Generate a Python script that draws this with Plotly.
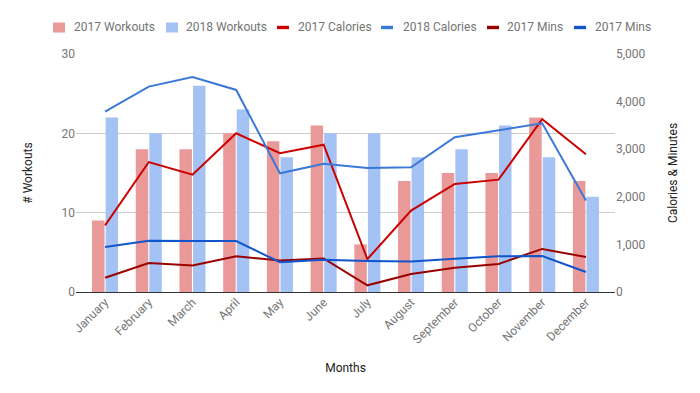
import plotly.graph_objects as go

months = ["January", "February", "March", "April", "May", "June", "July",
          "August", "September", "October", "November", "December"]
workouts_2017 = [9, 18, 18, 20, 19, 21, 6, 14, 15, 15, 22, 14]
workouts_2018 = [22, 20, 26, 23, 17, 20, 20, 17, 18, 21, 17, 12]
calories_2017 = [1400, 2730, 2465, 3335, 2915, 3095, 690, 1710, 2270, 2360, 3630, 2895]
calories_2018 = [3790, 4315, 4515, 4245, 2495, 2695, 2605, 2620, 3250, 3405, 3545, 1920]
mins_2017 = [300, 610, 555, 750, 660, 705, 140, 380, 510, 590, 905, 735]
mins_2018 = [945, 1075, 1070, 1070, 625, 680, 650, 640, 700, 750, 755, 420]

series_names = ["2017 Workouts", "2018 Workouts", "2017 Calories",
                "2018 Calories", "2017 Mins", "2017 Mins"]
series_colors = ["#ea9999", "#a4c2f4", "#cc0000", "#3c78d8", "#990000", "#1155cc"]

FONT = "Roboto, Arial, sans-serif"
GRAY = "#757575"

fig = go.Figure()
fig.add_trace(go.Bar(x=months, y=workouts_2017, name=series_names[0],
                     marker=dict(color=series_colors[0], line=dict(width=0))))
fig.add_trace(go.Bar(x=months, y=workouts_2018, name=series_names[1],
                     marker=dict(color=series_colors[1], line=dict(width=0))))
for vals, i in ((calories_2017, 2), (calories_2018, 3), (mins_2017, 4), (mins_2018, 5)):
    fig.add_trace(go.Scatter(x=months, y=vals, name=series_names[i], yaxis="y2",
                             mode="lines", line=dict(color=series_colors[i], width=2)))

# Manual legend (pixel positions converted to paper coordinates)
PL, PR, PT, PB = 76, 615, 54, 292
def px_x(p):
    return (p - PL) / (PR - PL)
def px_y(p):
    return (PB - p) / (PB - PT)

swatch_x = [53, 166, 277, 381, 487, 574]
text_x = [72, 184, 296, 401, 505, 593]
ly = 27.5
shapes = []
annotations = []
for i, name in enumerate(series_names):
    if i < 2:
        y0, y1 = ly - 5, ly + 5
    else:
        y0, y1 = ly - 1.7, ly + 1.7
    shapes.append(dict(type="rect", xref="paper", yref="paper",
                       x0=px_x(swatch_x[i]), x1=px_x(swatch_x[i] + 12),
                       y0=px_y(y1), y1=px_y(y0),
                       fillcolor=series_colors[i], line=dict(width=0), layer="above"))
    annotations.append(dict(text=name, xref="paper", yref="paper",
                            x=px_x(text_x[i]), y=px_y(ly), xanchor="left", yanchor="middle",
                            showarrow=False, font=dict(family=FONT, size=12, color=GRAY)))

fig.update_layout(
    width=700, height=393,
    margin=dict(l=76, r=85, t=54, b=101, autoexpand=False),
    paper_bgcolor="white", plot_bgcolor="white",
    font=dict(family=FONT, size=12, color=GRAY),
    barmode="group", bargap=0.38, bargroupgap=0.08,
    showlegend=False,
    shapes=shapes, annotations=annotations,
    xaxis=dict(range=[-0.665, 11.665], tickangle=-45, showgrid=False, zeroline=False,
               showline=False, ticks="", tickfont=dict(size=12, color=GRAY), automargin=False,
               title=dict(text="Months", font=dict(size=12, color="#222222"), standoff=18)),
    yaxis=dict(range=[0, 30], tickvals=[0, 10, 20, 30], showgrid=True, gridcolor="#cccccc",
               zeroline=True, zerolinecolor="#333333", zerolinewidth=1, showline=False,
               tickfont=dict(size=12, color=GRAY), ticks="", ticklen=0, automargin=False,
               title=dict(text="# Workouts", font=dict(size=12, color="#222222"), standoff=26)),
    yaxis2=dict(range=[0, 5000], tickvals=[0, 1000, 2000, 3000, 4000, 5000], tickformat=",",
                overlaying="y", side="right", showgrid=False, zeroline=False, showline=False,
                tickfont=dict(size=12, color=GRAY), automargin=False,
                title=dict(text="Calories & Minutes", font=dict(size=12, color="#222222"), standoff=24)),
)

fig.write_html("out.html", config={"displayModeBar": False},
               post_script="document.body.style.margin='0';")
